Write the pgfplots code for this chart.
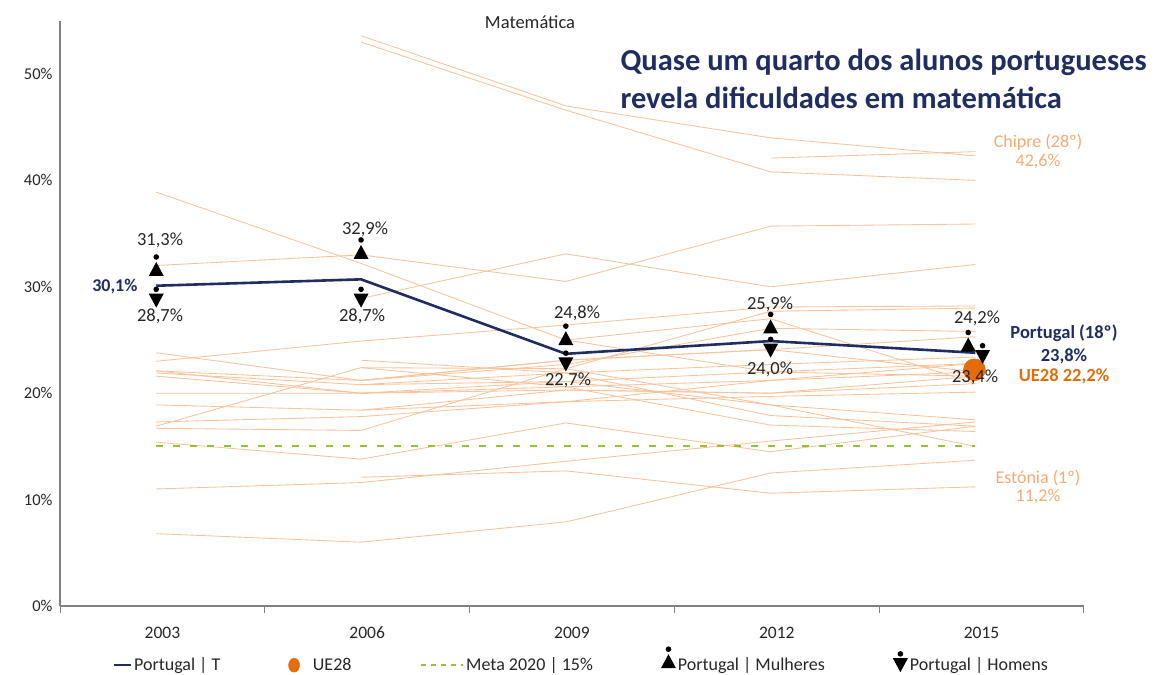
\documentclass[border=0pt]{standalone}
\usepackage{fontspec}
\setmainfont{Carlito}
\usepackage{pgfplots}
\pgfplotsset{compat=1.18}
\definecolor{navy}{RGB}{31,45,96}
\definecolor{lor}{RGB}{249,194,154}
\definecolor{lortxt}{RGB}{246,170,115}
\definecolor{ue}{RGB}{228,108,10}
\definecolor{meta}{RGB}{146,196,50}
\definecolor{axgray}{RGB}{128,128,128}
\pgfdeclareplotmark{woman}{%
  \pgfpathmoveto{\pgfqpoint{-7.5pt}{-3pt}}%
  \pgfpathlineto{\pgfqpoint{7.5pt}{-3pt}}%
  \pgfpathlineto{\pgfqpoint{0pt}{11pt}}%
  \pgfpathclose\pgfusepathqfill
  \pgfpathcircle{\pgfqpoint{0pt}{16pt}}{2.8pt}\pgfusepathqfill}
\pgfdeclareplotmark{man}{%
  \pgfpathmoveto{\pgfqpoint{-7.5pt}{7pt}}%
  \pgfpathlineto{\pgfqpoint{7.5pt}{7pt}}%
  \pgfpathlineto{\pgfqpoint{0pt}{-7pt}}%
  \pgfpathclose\pgfusepathqfill
  \pgfpathcircle{\pgfqpoint{0pt}{11.3pt}}{2.8pt}\pgfusepathqfill}
\begin{document}
\begin{tikzpicture}
\useasboundingbox (0,0) rectangle (1166pt,674pt);
\begin{axis}[
  at={(60pt,68pt)}, anchor=south west, scale only axis,
  width=1024pt, height=585.2pt,
  xmin=-0.47, xmax=4.53, ymin=0, ymax=55,
  axis x line*=bottom, axis y line*=left,
  axis line style={axgray, line width=1.2pt},
  xtick={-0.47,0.53,1.53,2.53,3.53,4.53},
  x tick label as interval,
  xticklabels={2003,2006,2009,2012,2015},
  tick align=outside, major tick length=7pt,
  xtick style={axgray, line width=1pt},
  ytick={0,10,...,50}, ytick style={draw=none},
  yticklabel={\pgfmathprintnumber{\tick}\%},
  yticklabel style={font=\fontsize{16.5}{19}\selectfont, text=black!85, xshift=3pt},
  xticklabel style={font=\fontsize{17.5}{20}\selectfont, text=black!85, yshift=-10pt, text height=12pt, text depth=0pt},
  /pgf/number format/assume math mode=true,
  clip=false,
  legend columns=5,
  legend style={at={(0.509,-0.093)}, anchor=center, draw=none, fill=none,
    font=\fontsize{18}{21}\selectfont, text=black!85,
    /tikz/every even column/.append style={column sep=66pt}},
  legend cell align=left,
]
% other EU countries
\addplot[lor, line width=0.85pt, forget plot] coordinates {(1,53.6)(2,47.0)(3,44.0)(4,42.3)};
\addplot[lor, line width=0.85pt, forget plot] coordinates {(1,53.0)(2,46.6)(3,40.8)(4,40.0)};
\addplot[lor, line width=0.85pt, forget plot] coordinates {(3,42.1)(4,42.7)};
\addplot[lor, line width=0.85pt, forget plot] coordinates {(0,32.0)(1,33.0)(2,30.5)(3,35.7)(4,35.9)};
\addplot[lor, line width=0.85pt, forget plot] coordinates {(1,28.9)(2,33.1)(3,30.0)(4,32.1)};
\addplot[lor, line width=0.85pt, forget plot] coordinates {(0,38.9)(1,32.2)(2,25.0)(3,27.0)(4,20.9)};
\addplot[lor, line width=0.85pt, forget plot] coordinates {(0,23.0)(1,24.9)(2,26.4)(3,28.1)(4,28.2)};
\addplot[lor, line width=0.85pt, forget plot] coordinates {(0,16.9)(1,22.4)(2,22.3)(3,27.7)(4,28.0)};
\addplot[lor, line width=0.85pt, forget plot] coordinates {(0,23.8)(1,21.2)(2,22.7)(3,26.1)(4,25.8)};
\addplot[lor, line width=0.85pt, forget plot] coordinates {(0,22.1)(1,21.2)(2,23.1)(3,24.1)(4,25.3)};
\addplot[lor, line width=0.85pt, forget plot] coordinates {(0,21.9)(1,20.8)(2,21.9)(3,22.7)(4,23.4)};
\addplot[lor, line width=0.85pt, forget plot] coordinates {(0,21.6)(1,20.0)(2,21.1)(3,22.0)(4,22.8)};
\addplot[lor, line width=0.85pt, forget plot] coordinates {(0,20.0)(1,20.0)(2,20.6)(3,21.2)(4,22.0)};
\addplot[lor, line width=0.85pt, forget plot] coordinates {(0,18.9)(1,18.4)(2,20.3)(3,20.0)(4,21.6)};
\addplot[lor, line width=0.85pt, forget plot] coordinates {(0,17.3)(1,17.8)(2,19.2)(3,19.7)(4,20.1)};
\addplot[lor, line width=0.85pt, forget plot] coordinates {(0,16.7)(1,16.5)(2,22.3)(3,18.9)(4,17.5)};
\addplot[lor, line width=0.85pt, forget plot] coordinates {(1,23.1)(2,21.9)(3,17.9)(4,16.9)};
\addplot[lor, line width=0.85pt, forget plot] coordinates {(1,22.4)(2,20.6)(3,17.0)(4,16.4)};
\addplot[lor, line width=0.85pt, forget plot] coordinates {(0,15.4)(1,13.8)(2,17.2)(3,14.5)(4,16.9)};
\addplot[lor, line width=0.85pt, forget plot] coordinates {(0,11.0)(1,11.6)(2,13.6)(3,15.5)(4,17.3)};
\addplot[lor, line width=0.85pt, forget plot] coordinates {(1,12.1)(2,12.7)(3,10.6)(4,11.2)};
\addplot[lor, line width=0.85pt, forget plot] coordinates {(0,6.8)(1,6.0)(2,7.9)(3,12.5)(4,13.7)};
\addplot[lor, line width=0.85pt, forget plot] coordinates {(1,21.2)(2,23.1)(3,24.1)(4,22.0)};
\addplot[lor, line width=0.85pt, forget plot] coordinates {(2,25.0)(3,22.0)(4,21.6)};
\addplot[lor, line width=0.85pt, forget plot] coordinates {(1,20.8)(2,21.1)(3,18.9)(4,15.0)};
\addplot[lor, line width=0.85pt, forget plot] coordinates {(0,22.1)(1,20.0)(2,20.3)(3,20.0)(4,20.9)};
\addplot[lor, line width=0.85pt, forget plot] coordinates {(1,18.4)(2,19.2)(3,21.2)(4,22.8)};
% Portugal total
\addplot[navy, line width=2.6pt] coordinates {(0,30.1)(1,30.7)(2,23.7)(3,24.9)(4,23.8)};
\addlegendentry{Portugal | T}
% UE28
\addplot[only marks, mark=*, mark size=11pt, color=ue,
  legend image code/.code={\fill[ue] (0.2cm,0) ellipse (5.5pt and 7pt); \node[inner sep=0pt, draw=none, fill=none] at (0.75cm,0) {};}] coordinates {(3.995,22.2)};
\addlegendentry{UE28}
% Meta
\addplot[meta, line width=2pt, dash pattern=on 7pt off 10pt,
  legend image code/.code={\draw[meta, line width=2pt, dash pattern=on 5pt off 5pt] (-0.4cm,0) -- (1.1cm,0);}] coordinates {(0,15)(4,15)};
\addlegendentry{Meta 2020 | 15\%}
% Mulheres
\addplot[only marks, mark=woman, color=black] coordinates {(0,31.3)(1,32.9)(2,24.8)(3,25.9)(3.965,24.2)};
\addlegendentry{Portugal | Mulheres}
% Homens
\addplot[only marks, mark=man, color=black] coordinates {(0,28.7)(1,28.7)(2,22.7)(3,24.0)(4.035,23.4)};
\addlegendentry{Portugal | Homens}
\end{axis}
% texts
\node[anchor=west, align=left, font=\fontsize{30.5}{38}\selectfont\bfseries, text=navy] at (617pt,595pt)
  {Quase um quarto dos alunos portugueses\\revela dificuldades em matemática};
\node[font=\fontsize{18.5}{21}\selectfont, text=black!85] at (530pt,652pt) {Matemática};
\begin{scope}[every node/.style={font=\fontsize{18.5}{21}\selectfont, text=black!85}]
\node at (160pt,434pt) {31,3\%};
\node at (365pt,445pt) {32,9\%};
\node at (577pt,361pt) {24,8\%};
\node at (770pt,370pt) {25,9\%};
\node at (977pt,356pt) {24,2\%};
\node at (160pt,358pt) {28,7\%};
\node at (362pt,358pt) {28,7\%};
\node at (568pt,294pt) {22,7\%};
\node at (770pt,305pt) {24,0\%};
\node at (975pt,297pt) {23,4\%};
\end{scope}
\node[anchor=east, font=\fontsize{18}{21}\selectfont\bfseries, text=navy] at (141pt,387pt) {30,1\%};
\node[font=\fontsize{18.5}{21}\selectfont\bfseries, text=navy] at (1064pt,341pt) {Portugal (18º)};
\node[font=\fontsize{18.5}{21}\selectfont\bfseries, text=navy] at (1064pt,318pt) {23,8\%};
\node[font=\fontsize{18.5}{21}\selectfont\bfseries, text=ue] at (1064pt,298pt) {UE28 22,2\%};
\node[font=\fontsize{18}{21}\selectfont, text=lortxt] at (1038pt,532pt) {Chipre (28º)};
\node[font=\fontsize{18}{21}\selectfont, text=lortxt] at (1038pt,512pt) {42,6\%};
\node[font=\fontsize{18}{21}\selectfont, text=lortxt] at (1038pt,196pt) {Estónia (1º)};
\node[font=\fontsize{18}{21}\selectfont, text=lortxt] at (1038pt,177pt) {11,2\%};
\end{tikzpicture}
\end{document}
